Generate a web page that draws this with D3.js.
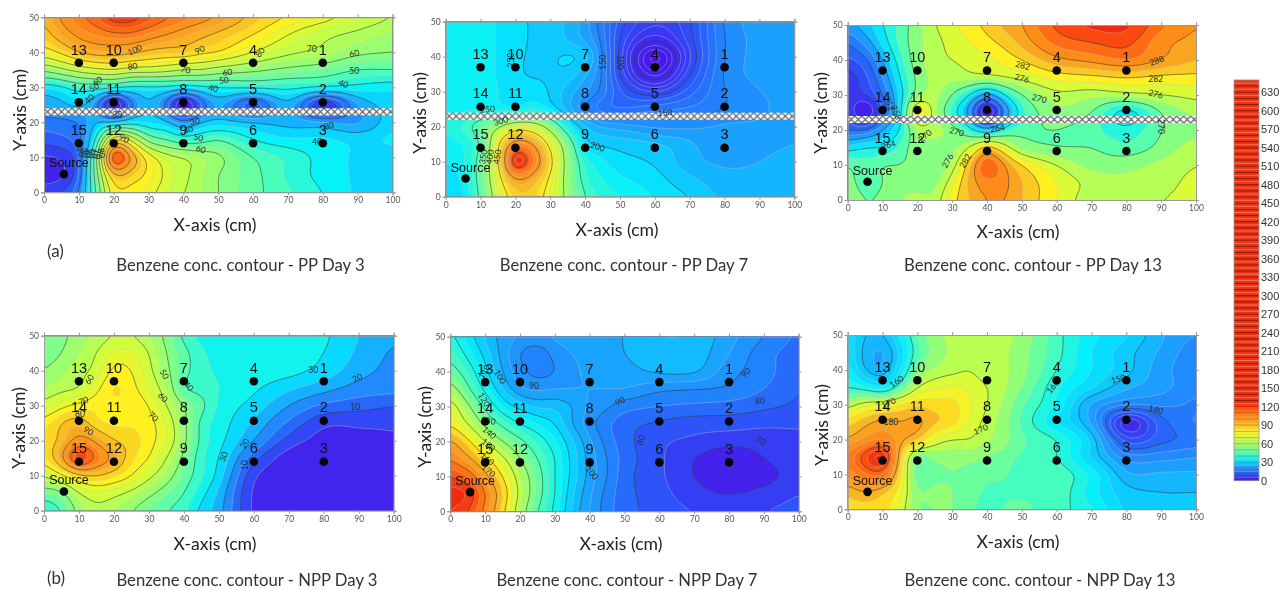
<!DOCTYPE html>
<html><head><meta charset="utf-8">
<script src="https://cdn.jsdelivr.net/npm/d3@7"></script>
<style>html,body{margin:0;background:#fff;overflow:hidden}svg{display:block;filter:blur(.45px)}</style>
</head><body><svg id="c" width="1280" height="590"></svg>
<script>
const gridX=[0,5,10,15,20,25,30,35,40,45,50,60,70,80,90,100];
const gridY=[50,45,40,35,30,25,20,15,10,5,0];
const wellIds=[1,2,3,4,5,6,7,8,9,10,11,12,13,14,15];
const wellX=[80,80,80,60,60,60,40,40,40,20,20,20,10,10,10];
const wellY=[37,25.7,14,37,25.7,14,37,25.7,14,37,25.7,14,37,25.7,14];
const xTicks=[0,10,20,30,40,50,60,70,80,90,100];
const yTicks=[0,10,20,30,40,50];
const legendTicks=[0,30,60,90,120,150,180,210,240,270,300,330,360,390,420,450,480,510,540,570,600,630];

const ppDay3=[
[100,112,118,125,135,135,128,122,118,114,110,98,90,84,76,70],
[96,105,112,115,118,118,114,110,106,102,98,90,80,72,68,64],
[85,92,100,104,104,102,98,96,96,92,90,80,72,68,62,60],
[62,68,74,78,80,76,76,74,70,70,66,62,58,55,50,50],
[35,38,44,44,42,38,38,38,36,38,40,42,42,40,38,36],
[25,28,32,22,-6,18,30,18,-6,14,26,10,28,2,25,33],
[18,18,20,30,30,36,34,32,22,30,32,30,28,26,24,34],
[12,14,18,40,92,78,56,50,44,46,50,40,36,36,34,36],
[4,6,14,55,132,108,85,74,70,66,62,50,44,38,34,32],
[2,4,14,55,100,95,88,78,72,66,60,52,44,38,34,30],
[8,10,20,50,86,86,82,76,70,66,60,52,46,40,34,30]];
const ppDay7=[
[215,215,215,212,205,198,195,185,168,140,108,80,98,152,168,170],
[215,215,215,212,205,198,195,186,172,145,98,55,95,150,166,170],
[215,215,215,212,203,198,198,202,195,150,95,5,85,150,166,170],
[215,215,215,212,203,198,198,196,178,148,98,30,98,152,166,170],
[218,218,216,214,203,210,198,182,165,145,115,88,120,150,162,168],
[222,222,222,220,215,225,210,182,150,130,125,135,140,150,160,168],
[228,240,265,295,330,325,285,225,190,175,170,160,160,165,165,170],
[218,225,250,345,420,400,340,275,205,198,195,190,178,162,168,175],
[212,222,262,345,480,430,360,285,232,215,205,198,180,172,175,185],
[205,215,262,335,400,385,345,285,240,225,215,205,190,180,180,185],
[200,208,255,320,365,365,335,290,250,235,225,212,200,185,180,180]];
const ppDay13=[
[257,260,264,268,272,276,278,281,283,286,288,295,298,298,292,288],
[252,256,262,268,272,275,277,279,281,283,286,292,294,295,289,287],
[248,251,258,266,272,275,276,277,278,280,282,287,289,291,288,285],
[244,248,255,264,271,274,274,275,275,276,277,280,281,282,281,281],
[245,246,252,262,272,274,270,264,256,264,270,275,274,275,276,277],
[247,238,250,262,282,274,266,256,236,254,266,272,270,262,270,274],
[252,252,258,264,274,274,272,266,260,266,269,270,268,265,270,272],
[262,264,264,268,272,272,272,276,284,278,272,270,270,268,271,275],
[270,268,270,270,271,271,274,284,295,288,282,276,272,272,274,276],
[272,268,270,272,272,272,278,286,290,289,285,279,275,274,275,277],
[274,270,271,273,274,274,281,285,288,288,285,279,274,275,276,277]];
const nppDay3=[
[45,48,53,56,60,60,55,48,38,33,33,33,33,31,25,21],
[46,50,55,60,66,66,60,50,42,36,33,33,33,30,24,19],
[50,54,58,62,72,70,62,52,42,37,34,33,32,28,22,18],
[55,58,60,68,76,72,65,56,40,38,35,31,26,22,18,17],
[62,68,72,74,74,74,70,60,50,42,34,28,20,14,12,10],
[72,80,84,76,74,74,72,65,52,38,33,24,14,6,6,6],
[75,82,94,88,80,78,72,66,52,38,32,20,8,3,3,4],
[72,88,112,98,88,76,70,60,48,36,30,12,2,1,1,1],
[60,68,78,80,76,70,62,54,44,36,28,6,1,1,1,1],
[45,48,60,64,62,58,52,46,40,32,24,4,1,1,1,1],
[32,40,52,58,55,50,44,40,36,28,22,4,1,1,1,1]];
const nppDay7=[
[122,113,104,98,95,95,96,98,100,100,100,105,104,97,90,84],
[128,118,108,98,90,86,92,95,97,98,100,103,103,95,87,82],
[135,125,112,100,92,88,90,94,96,97,98,101,101,92,87,81],
[145,132,118,105,96,94,95,95,95,95,95,91,90,89,85,80],
[155,142,128,115,108,104,104,100,94,91,87,85,84,83,81,79],
[160,150,138,128,120,115,110,100,92,86,82,79,77,77,76,76],
[172,162,150,140,132,124,116,106,96,88,82,76,74,72,72,73],
[180,172,162,152,140,130,120,108,98,90,83,76,70,66,70,73],
[190,185,172,160,146,134,120,108,98,90,82,76,70,66,68,73],
[198,195,180,165,148,134,120,106,96,88,82,77,72,70,72,75],
[195,190,178,162,145,130,118,104,95,87,82,78,75,73,75,77]];
const nppDay13=[
[155,150,150,156,163,167,168,168,168,168,167,161,156,153,148,145],
[155,149,147,153,162,166,168,168,168,168,166,161,155,151,147,143],
[157,150,148,155,165,168,169,170,168,168,166,160,155,151,146,143],
[160,158,155,162,170,172,173,172,170,168,165,158,153,148,146,143],
[168,172,173,175,177,176,176,173,170,167,163,157,147,143,143,142],
[176,179,181,180,181,178,176,172,169,166,162,155,147,130,139,143],
[180,183,185,181,178,172,170,170,168,166,163,160,152,136,139,141],
[185,192,197,178,164,166,166,166,165,164,162,160,152,144,144,145],
[183,187,188,176,163,164,165,164,163,163,161,162,157,148,148,148],
[178,180,178,174,165,166,165,164,162,162,162,162,156,151,150,150],
[176,176,176,172,165,165,165,164,160,163,163,161,158,152,151,151]];

const labelsA=[["100",26,40.7,-25],["90",44.7,40.7,-25],["80",62,40,-50],["70",76.8,41,0],["60",89,39.7,-10],["80",25.4,36,-10],["70",40.6,35,10],["60",52.6,34.3,-5],["50",51.6,32,-5],["50",89,34.7,0],["60",15.3,31.8,-35],["50",14.4,30,-35],["40",13,26.7,-45],["40",48.6,29.7,10],["40",85.9,31,20],["30",21,22,0],["30",43.3,20.2,-10],["40",41.4,17.8,-20],["50",44.3,15.6,15],["60",45,12.3,20],["90",23,15.4,30],["30",81.8,19,-15],["40",78.4,14.5,0],["20",10.5,11.5,80],["30",11.5,11.3,80],["40",12.5,11.2,80],["50",13.5,11.1,80],["60",14.5,11,80],["70",15.5,10.9,80],["80",16.5,11.2,80]];
const labelsB=[["150",45,38.4,-90],["100",50,38.4,90],["250",18.7,39,-90],["250",12,25,-5],["300",15.8,21.6,-15],["350",10.8,11.4,-80],["400",12.7,11.4,-80],["450",14.8,11.4,-80],["200",43.5,14.3,20],["150",62.9,24,-5]];
const labelsC=[["282",50.2,38.4,15],["288",88.7,39.8,-20],["282",88.4,34.6,0],["276",50,34.8,15],["276",88.4,30.3,15],["270",55,29,15],["270",31.3,19.5,15],["264",43,20.5,-10],["264",11.7,15.7,-15],["270",22.2,18.3,-40],["276",28.7,11.2,-60],["282",33.7,11.2,-60],["270",90,21,90],["252",11.9,27.6,70],["258",13.9,25,70]];
const labelsD=[["60",13,37.5,-60],["70",11.3,31.4,-20],["80",10.3,27.5,0],["90",12.7,22.8,30],["50",34.4,39,60],["40",41.4,35.6,50],["60",34,32.4,45],["70",31.3,26.9,45],["30",77,40.2,0],["20",89.6,38,-25],["10",89,29.7,0],["30",51.4,15.4,-70],["20",57.4,19.2,-60],["10",57.4,13,-90]];
const labelsE=[["100",14.3,38.5,60],["90",24,36,0],["90",84.8,39.7,-45],["90",48.7,31.5,-30],["80",88.9,31.6,-5],["80",54.7,20.4,-70],["70",89.2,20.2,35],["100",40.6,11,50],["110",9.7,40,-60],["120",9.7,32,60],["130",10.9,26,10],["140",11.2,22.5,40],["150",10.9,19,40],["160",10.6,15,40],["170",11,11.6,40]];
const labelsF=[["160",14,36.7,-35],["170",11.7,30.5,-25],["180",12.4,25,0],["170",38.2,22.9,-25],["160",58.9,35.2,-50],["150",77.7,37.4,-15],["140",88.5,28.6,15]];

const panels=[
{z:ppDay3,labels:labelsA,cv:[0,135],ct:[0,1],dom:[0,135],step:5,major:10,l:44,r:392.5,t:17.3,b:192.3,barrier:true,title:"Benzene conc. contour - PP Day 3",tx:240.5,ty:265,xt:[215,225],yt:[20,110],src:[5.7,5.2]},
{z:ppDay7,labels:labelsB,cv:[10,55,100,150,200,250,300,350,400,470],ct:[0,.03,.08,.15,.24,.35,.5,.65,.8,1],dom:[10,485],step:12.5,major:50,l:445.7,r:794.3,t:21.7,b:196.7,barrier:true,title:"Benzene conc. contour - PP Day 7",tx:624,ty:265,xt:[617,230],yt:[420,113],src:[5.7,5.2]},
{z:ppDay13,labels:labelsC,cv:[240,252,258,264,270,276,282,288,294,298],ct:[0,.12,.2,.28,.4,.55,.68,.82,.93,1],dom:[240,300],step:3,major:6,l:847.7,r:1196,t:25,b:200,barrier:true,title:"Benzene conc. contour - PP Day 13",tx:1033,ty:265,xt:[1018,232],yt:[821,113],src:[5.7,5.2]},
{z:nppDay3,labels:labelsD,cv:[0,112],ct:[0,1],dom:[0,112],step:5,major:10,l:44,r:393.7,t:335.7,b:510.7,barrier:false,title:"Benzene conc. contour - NPP Day 3",tx:247,ty:580,xt:[215,544],yt:[19,428],src:[5.7,5.5]},
{z:nppDay7,labels:labelsE,cv:[65,70,80,90,100,110,120,130,140,150,160,170,180,195],ct:[0,.04,.1,.16,.2,.25,.3,.36,.45,.55,.65,.78,.87,1],dom:[62,205],step:5,major:10,l:450.3,r:798.7,t:336.7,b:511.3,barrier:false,title:"Benzene conc. contour - NPP Day 7",tx:627,ty:580,xt:[621,544],yt:[425,427],src:[5.7,5.5]},
{z:nppDay13,labels:labelsF,cv:[128,135,140,145,150,155,160,165,170,175,180,185,195],ct:[0,.07,.12,.17,.22,.26,.32,.42,.55,.65,.78,.86,1],dom:[128,198],step:2.5,major:10,l:847.7,r:1196,t:335,b:509.3,barrier:false,title:"Benzene conc. contour - NPP Day 13",tx:1040,ty:580,xt:[1018,542],yt:[822,425],src:[5.7,5]}
];

const rainbow=d3.scaleLinear()
 .domain([0,.09,.18,.27,.36,.45,.55,.65,.75,.85,.93,1])
 .range(["#4a14e8","#2a58fa","#1c9cff","#00f0ff","#50ffb4","#90ff78","#ccff40","#fff020","#f8b424","#ff8a18","#ff5a10","#f02a10"])
 .clamp(true);

const svg=d3.select("#c");
const defs=svg.append("defs");
const FONT="'Liberation Sans',Arial,sans-serif", SANS="Lato,'Open Sans',sans-serif";

// Hermite upsampling and light smoothing of the read-off grid, for contour rendering only
function hermite(xs,vs,x){
 let i=Math.min(d3.bisectRight(xs,x)-1,xs.length-2); if(i<0)i=0;
 const h=xs[i+1]-xs[i],t=(x-xs[i])/h;
 const m=k=>k<=0?(vs[1]-vs[0])/(xs[1]-xs[0]):k>=xs.length-1?(vs[k]-vs[k-1])/(xs[k]-xs[k-1]):(vs[k+1]-vs[k-1])/(xs[k+1]-xs[k-1]);
 const t2=t*t,t3=t2*t;
 return (2*t3-3*t2+1)*vs[i]+(t3-2*t2+t)*h*m(i)+(-2*t3+3*t2)*vs[i+1]+(t3-t2)*h*m(i+1);
}
const NX=301,NY=151,asc=gridY.slice().reverse();
function upsample(z){
 const cols=gridX.map((_,c)=>z.map(r=>r[c]).reverse());
 const out=new Float64Array(NX*NY);
 for(let j=0;j<NY;j++){
  const yv=50-j/(NY-1)*50;
  const row=cols.map(c=>hermite(asc,c,yv));
  for(let i=0;i<NX;i++) out[j*NX+i]=hermite(gridX,row,i/(NX-1)*100);
 }
 if(d3.blur2) d3.blur2({data:out,width:NX,height:NY},4,3);
 return out;
}

panels.forEach((p,pi)=>{
 const x=d3.scaleLinear().domain([0,100]).range([p.l,p.r]);
 const y=d3.scaleLinear().domain([0,50]).range([p.b,p.t]);
 const g=svg.append("g");
 const cid="clip"+pi;
 defs.append("clipPath").attr("id",cid).append("rect").attr("x",p.l).attr("y",p.t).attr("width",p.r-p.l).attr("height",p.b-p.t);
 const vals=upsample(p.z);
 const levels=d3.range(Math.floor(p.dom[0]/p.step)*p.step,p.dom[1]+p.step*3,p.step);
 const tone=d3.scaleLinear().domain(p.cv).range(p.ct).clamp(true);
 const col=v=>rainbow(tone(v));
 const contours=d3.contours().size([NX,NY]).thresholds(levels)(vals);
 const path=d3.geoPath(d3.geoTransform({point(a,b){this.stream.point(x((a-.5)/(NX-1)*100),y(50-(b-.5)/(NY-1)*50));}}));
 const plot=g.append("g").attr("clip-path",`url(#${cid})`);
 plot.append("rect").attr("x",p.l).attr("y",p.t).attr("width",p.r-p.l).attr("height",p.b-p.t).attr("fill",col(p.dom[0]));
 plot.selectAll("path.f").data(contours).join("path").attr("class","f").attr("d",path).attr("fill",d=>col(d.value+p.step/2));
 const isMajor=d=>Math.abs(d.value/p.major-Math.round(d.value/p.major))<1e-6;
 plot.selectAll("path.l").data(contours.filter(d=>d.value>levels[0])).join("path").attr("class","l").attr("d",path).attr("fill","none")
  .attr("stroke",d=>isMajor(d)?"#3a3a3a":"#c8c8c8")
  .attr("stroke-opacity",d=>isMajor(d)?.8:.55)
  .attr("stroke-width",.75);

 if(p.barrier){
  const pid="hatch"+pi,top=y(24),h=y(22)-y(24);
  const pat=defs.append("pattern").attr("id",pid).attr("patternUnits","userSpaceOnUse").attr("x",p.l).attr("y",top).attr("width",h).attr("height",h);
  pat.append("rect").attr("width",h).attr("height",h).attr("fill","#fff");
  pat.append("path").attr("d",`M0 0L${h} ${h}M${h} 0L0 ${h}`).attr("stroke","#555").attr("stroke-width",1.2);
  plot.append("rect").attr("x",p.l).attr("y",top).attr("width",p.r-p.l).attr("height",h).attr("fill",`url(#${pid})`);
 }

 plot.selectAll("text.cl").data(p.labels).join("text").attr("class","cl")
  .attr("transform",d=>`translate(${x(d[1])},${y(d[2])}) rotate(${d[3]})`)
  .attr("text-anchor","middle").attr("dy","0.35em").attr("font-family",SANS).attr("font-size",8.5).attr("fill","#2a3030").text(d=>d[0]);

 const ax=d3.axisBottom(x).tickValues(xTicks).tickSize(3).tickPadding(2);
 const ay=d3.axisLeft(y).tickValues(yTicks).tickSize(3).tickPadding(2);
 const style=s=>{s.selectAll("text").attr("font-family",SANS).attr("font-size",8.5).attr("fill","#555");s.selectAll("line,path").attr("stroke","#999");};
 g.append("g").attr("transform",`translate(0,${p.b})`).call(ax).call(style);
 g.append("g").attr("transform",`translate(${p.l},0)`).call(ay).call(style);
 g.append("g").attr("transform",`translate(0,${p.t})`).call(d3.axisTop(x).tickValues(xTicks).tickSize(3).tickFormat("")).call(style);
 g.append("g").attr("transform",`translate(${p.r},0)`).call(d3.axisRight(y).tickValues(yTicks).tickSize(3).tickFormat("")).call(style);

 g.selectAll("circle.w").data(wellIds).join("circle").attr("class","w")
  .attr("cx",(d,i)=>x(wellX[i])).attr("cy",(d,i)=>y(wellY[i])).attr("r",4.3).attr("fill","#050505");
 g.selectAll("text.w").data(wellIds).join("text").attr("class","w")
  .attr("x",(d,i)=>x(wellX[i])).attr("y",(d,i)=>y(wellY[i])-13.5).attr("dy","0.36em").attr("text-anchor","middle")
  .attr("font-family",FONT).attr("font-size",14.5).attr("fill","#111").text(d=>d);
 g.append("circle").attr("cx",x(p.src[0])).attr("cy",y(p.src[1])).attr("r",4.3).attr("fill","#050505");
 g.append("text").attr("x",x(p.src[0])+5).attr("y",y(p.src[1])-11.5).attr("dy","0.36em").attr("text-anchor","middle")
  .attr("font-family",FONT).attr("font-size",12.5).attr("fill","#111").text("Source");

 g.append("text").attr("x",p.xt[0]).attr("y",p.xt[1]).attr("dy","0.35em").attr("text-anchor","middle").attr("font-family",SANS).attr("font-size",17.6).attr("fill","#222").text("X-axis (cm)");
 g.append("text").attr("transform",`translate(${p.yt[0]},${p.yt[1]}) rotate(-90)`).attr("dy","0.35em").attr("text-anchor","middle").attr("font-family",SANS).attr("font-size",17.6).attr("fill","#222").text("Y-axis (cm)");
 g.append("text").attr("x",p.tx).attr("y",p.ty).attr("dy","0.35em").attr("text-anchor","middle").attr("font-family",SANS).attr("font-size",16.7).attr("fill","#333").text(p.title);
});

[["(a)",47,251],["(b)",47,578]].forEach(d=>svg.append("text").attr("x",d[1]).attr("y",d[2]).attr("dy","0.35em").attr("font-family",SANS).attr("font-size",17).attr("fill","#333").text(d[0]));

const ly=d3.scaleLinear().domain([0,630]).range([480.7,92.3]);
const legendLevels=d3.range(0,650,5);
const lg=svg.append("g");
const legendCol=v=>v<125?rainbow(v/125):"#f0300f";
lg.selectAll("rect").data(legendLevels).join("rect").attr("x",1234).attr("width",25)
 .attr("y",d=>ly(d+5)).attr("height",d=>ly(d)-ly(d+5)+.3).attr("fill",d=>legendCol(d+2.5));
lg.selectAll("line").data(legendLevels.filter(d=>d>0)).join("line").attr("x1",1234).attr("x2",1259).attr("y1",d=>ly(d)).attr("y2",d=>ly(d))
 .attr("stroke",d=>d%10===0?"#5a1208":"#f08a78").attr("stroke-width",.8).attr("stroke-opacity",d=>d<125?.35:.9);
lg.append("rect").attr("x",1234).attr("y",ly(650)).attr("width",25).attr("height",ly(0)-ly(650)).attr("fill","none").attr("stroke","#999").attr("stroke-width",.8);
lg.selectAll("text").data(legendTicks).join("text").attr("x",1261).attr("y",d=>ly(d)).attr("dy","0.36em")
 .attr("font-family",FONT).attr("font-size",11).attr("fill","#333").text(d=>d);
</script></body></html>
